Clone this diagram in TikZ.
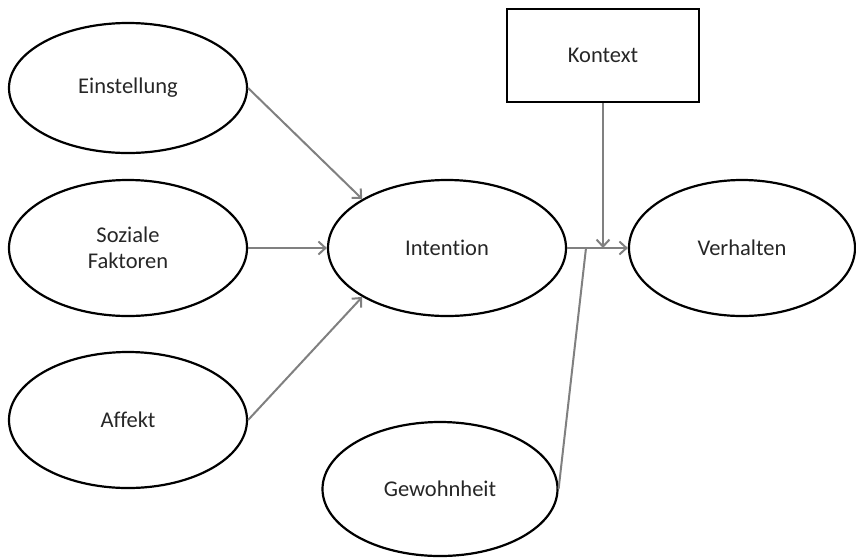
\documentclass[tikz,border=0pt]{standalone}
\usepackage{fontspec}
\setmainfont{Carlito}[Ligatures=NoCommon]
\usetikzlibrary{shapes.geometric,arrows.meta}

\tikzset{
  factor/.style={ellipse, draw=black, line width=2.2pt, inner sep=0pt,
    minimum width=238pt, minimum height=136pt, align=center,
    text=black!85, font=\fontsize{22.5}{26}\selectfont},
  framebox/.style={rectangle, draw=black, line width=2.4pt, inner sep=0pt,
    minimum width=192pt, minimum height=93pt,
    text=black!85, font=\fontsize{22.5}{26}\selectfont},
  link/.style={draw=black!50, line width=2pt},
  linkarrow/.style={link, -{Straight Barb[length=7pt,width=13pt,line width=2pt]}},
}

\begin{document}
\begin{tikzpicture}[x=1pt,y=-1pt]
  \useasboundingbox (0,0) rectangle (856,558);

  % influencing factors on the left
  \node[factor, minimum height=130pt] (ein) at (128,88)  {Einstellung};
  \node[factor] (soz) at (128,248) {Soziale\\Faktoren};
  \node[factor] (aff) at (128,420) {Affekt};

  % central chain
  \node[factor] (int) at (447,248) {Intention};
  \node[factor, minimum width=226pt] (ver) at (742,248) {Verhalten};
  \node[factor, minimum width=235pt, minimum height=134pt] (gew) at (440,489) {Gewohnheit};

  % context box
  \node[framebox] (kon) at (603,55.5) {Kontext};

  % junction points on the intention-behaviour link
  \coordinate (jg) at (586,248);
  \coordinate (jk) at (kon.south |- int.east);

  % arrows into intention
  \draw[linkarrow] (ein.east) -- (int.150);
  \draw[linkarrow] (soz.east) -- (int.west);
  \draw[linkarrow] (aff.east) -- (int.210);

  % intention to behaviour, moderated by context and habit
  \draw[linkarrow] (int.east) -- (ver.west);
  \draw[linkarrow] (kon.south) -- (jk);
  \draw[link] (gew.east) -- (jg);
\end{tikzpicture}
\end{document}
